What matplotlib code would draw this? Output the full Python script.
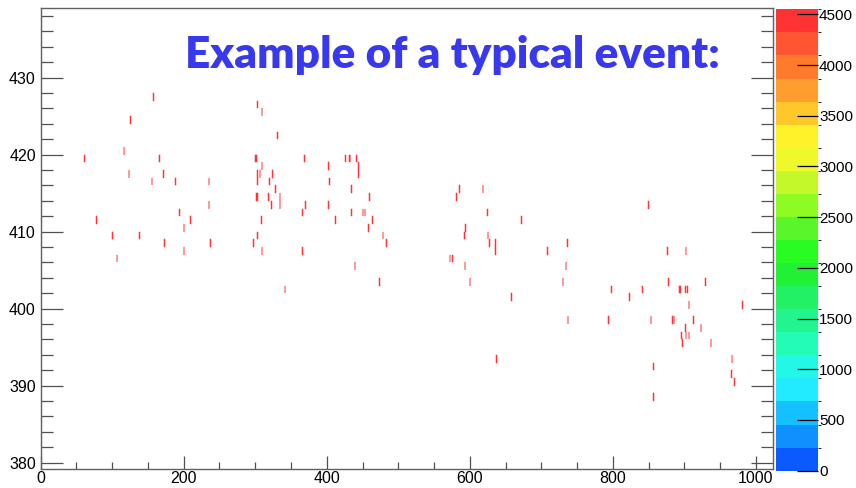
import numpy as np
import matplotlib
matplotlib.use("Agg")
import matplotlib.pyplot as plt
from matplotlib.colors import ListedColormap, BoundaryNorm

# ---- data (bin x, bin y) of filled cells, all with content ~4500 ----
hit_x = [157, 303, 309, 125, 331, 116, 61, 166, 300, 301, 368, 426, 431, 432, 441,
         309, 402, 444, 123, 171, 303, 306, 324, 444, 155, 188, 235, 303, 319, 403,
         328, 434, 585, 618, 301, 303, 318, 334, 459, 581, 235, 322, 334, 370, 402,
         849, 194, 366, 434, 450, 453, 624, 78, 209, 308, 412, 463, 672, 200, 458,
         594, 100, 138, 303, 478, 592, 625, 173, 237, 297, 483, 627, 635, 736, 200,
         309, 366, 635, 708, 876, 902, 106, 572, 575, 439, 593, 734, 473, 600, 730,
         877, 929, 341, 798, 841, 893, 894, 901, 904, 658, 823, 906, 981, 737, 793,
         853, 883, 885, 912, 901, 923, 896, 902, 906, 897, 937, 637, 966, 856, 965,
         970, 856]
hit_y = [427, 426, 425, 424, 422, 420, 419, 419, 419, 419, 419, 419, 419, 419, 419,
         418, 418, 418, 417, 417, 417, 417, 417, 417, 416, 416, 416, 416, 416, 416,
         415, 415, 415, 415, 414, 414, 414, 414, 414, 414, 413, 413, 413, 413, 413,
         413, 412, 412, 412, 412, 412, 412, 411, 411, 411, 411, 411, 411, 410, 410,
         410, 409, 409, 409, 409, 409, 409, 408, 408, 408, 408, 408, 408, 408, 407,
         407, 407, 407, 407, 407, 407, 406, 406, 406, 405, 405, 405, 403, 403, 403,
         403, 403, 402, 402, 402, 402, 402, 402, 402, 401, 401, 400, 400, 398, 398,
         398, 398, 398, 398, 397, 397, 396, 396, 396, 395, 395, 393, 393, 392, 391,
         390, 388]
hit_z = 4500

x_range = (0, 1024)
y_range = (379, 439)
z_max = 4550
n_levels = 20
cbar_ticks = [0, 500, 1000, 1500, 2000, 2500, 3000, 3500, 4000, 4500]
x_major = [0, 200, 400, 600, 800, 1000]
y_major = [380, 390, 400, 410, 420, 430]

palette = ["#0A5AFF", "#1090FF", "#14C0FF", "#22EAFF", "#22F8E5",
           "#22FCB5", "#22F58F", "#22F065", "#22F035", "#28FC22",
           "#5AF52A", "#8EFC22", "#C5F82A", "#EEF82A", "#FFF22A",
           "#FFC82A", "#FF9E2E", "#FF7A2A", "#FF5533", "#FF3333"]

# ---- build histogram ----
xe = np.arange(x_range[0], x_range[1] + 1)
ye = np.arange(y_range[0], y_range[1] + 1)
Z = np.zeros((len(ye) - 1, len(xe) - 1))
for x, y in zip(hit_x, hit_y):
    Z[y - y_range[0], x - x_range[0]] = hit_z
Zm = np.ma.masked_equal(Z, 0)

cmap = ListedColormap(palette)
norm = BoundaryNorm(np.linspace(0, z_max, n_levels + 1), cmap.N)

plt.rcParams['font.family'] = ['Liberation Sans', 'DejaVu Sans']
W, H = 856, 488
fig = plt.figure(figsize=(W / 100, H / 100), dpi=100)
ax = fig.add_axes([40.7 / W, 1 - 469.3 / H, (773 - 40.7) / W, (469.3 - 8) / H])
mesh = ax.pcolormesh(xe, ye, Zm, cmap=cmap, norm=norm,
                     antialiased=True, edgecolors='face', linewidth=0.35)
ax.set_xlim(0, 1024)
ax.set_ylim(379.14, 439.05)
ax.set_xticks(x_major)
ax.set_xticks(np.arange(0, 1025, 50), minor=True)
ax.set_yticks(y_major)
ax.set_yticks(np.arange(380, 439, 2), minor=True)
for s in ax.spines.values():
    s.set_color('#606060')
    s.set_linewidth(1.0)
ax.tick_params(axis='x', which='major', direction='in', length=9.5, width=0.9,
               color='#505050', labelsize=11.5, pad=1.5, top=False)
ax.tick_params(axis='x', which='minor', direction='in', length=5, width=0.9,
               color='#505050', top=False)
ax.tick_params(axis='y', which='major', direction='in', length=16, width=0.9,
               color='#505050', labelsize=11.5, pad=3.5, right=True)
ax.tick_params(axis='y', which='minor', direction='in', length=8.5, width=0.9,
               color='#505050', right=True)

cax = fig.add_axes([776 / W, 1 - 470.7 / H, 42 / W, (470.7 - 9.3) / H])
cb = fig.colorbar(mesh, cax=cax, ticks=cbar_ticks)
cb.outline.set_visible(False)
cax.set_ylim(0, z_max)
cax.tick_params(direction='in', length=15, width=0.9, color='black',
                labelsize=11, pad=0.8)

title = fig.text(452.5 / W, 1 - 68 / H, "Example of a typical event:",
                 ha='center', va='baseline', fontsize=32, fontweight='heavy',
                 family=['Lato', 'DejaVu Sans'], color='#3838EE')
fig.canvas.draw()
bb = title.get_window_extent()
title.set_fontsize(32 * 535.0 / bb.width)

fig.savefig("out.png", dpi=100)
